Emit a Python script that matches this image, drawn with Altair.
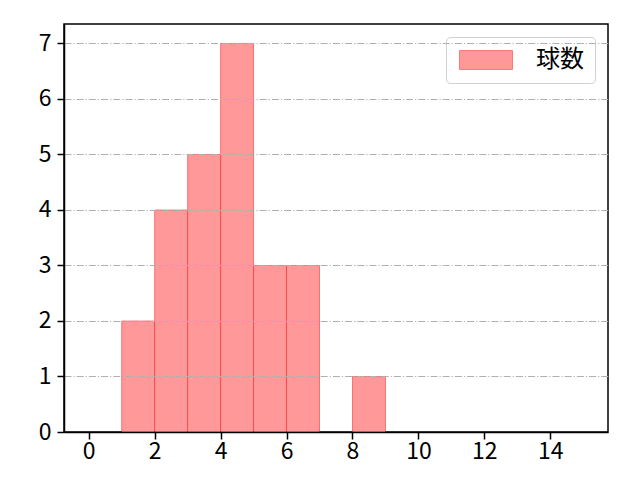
import altair as alt
import pandas as pd

bin_start = [1, 2, 3, 4, 5, 6, 8]
bin_end = [2, 3, 4, 5, 6, 7, 9]
counts = [2, 4, 5, 7, 3, 3, 1]
series = ["球数"] * len(counts)
x_ticks = [0, 2, 4, 6, 8, 10, 12, 14]
y_ticks = [0, 1, 2, 3, 4, 5, 6, 7]

df = pd.DataFrame({"start": bin_start, "end": bin_end, "count": counts, "series": series})

FONT = "Noto Sans CJK JP"

bars = alt.Chart(df).mark_rect(
    stroke="#ff0000", strokeOpacity=0.45, strokeWidth=1
).encode(
    x=alt.X("start:Q", scale=alt.Scale(domain=[-0.75, 15.75], nice=False, zero=False),
            axis=alt.Axis(values=x_ticks, title=None, grid=False, format="d",
                          labelFontSize=23, labelFont=FONT, labelColor="black",
                          tickSize=7, tickColor="black", tickWidth=1.5,
                          domainColor="black", domainWidth=1.5, labelPadding=1,
                          labelFlush=False, zindex=2)),
    x2="end:Q",
    y=alt.Y("count:Q", scale=alt.Scale(domain=[0, 7.35], nice=False),
            axis=alt.Axis(values=y_ticks, title=None, grid=True, format="d",
                          gridColor="#b0b0b0", gridDash=[7, 2, 1.2, 2], gridWidth=1,
                          labelFontSize=23, labelFont=FONT, labelColor="black",
                          tickSize=7, tickColor="black", tickWidth=1.5,
                          domainColor="black", domainWidth=1.5, labelPadding=6,
                          labelFlush=False, zindex=1)),
    y2=alt.datum(0),
    fill=alt.Fill("series:N", scale=alt.Scale(range=["#ff9999"]),
                  legend=alt.Legend(title=None, orient="top-right", offset=13,
                                    symbolType="M-1,-1L4.58,-1L4.58,1L-1,1Z",
                                    symbolSize=361, symbolStrokeColor="#ff7777",
                                    symbolStrokeWidth=1, symbolFillColor="#ff9999",
                                    symbolOpacity=1, labelOffset=55,
                                    labelFontSize=24, labelFont=FONT, labelColor="black",
                                    padding=11, strokeColor="#d0d0d0", cornerRadius=4,
                                    fillColor="white")),
).properties(width=544, height=408)

chart = bars.properties(
    padding={"left": 56, "top": 16, "right": 16, "bottom": 40},
    autosize=alt.AutoSizeParams(type="none"),
    background="white",
).configure_view(stroke="black", strokeWidth=1.5)

chart.save("out.html", embed_options={"renderer": "svg", "actions": False})
